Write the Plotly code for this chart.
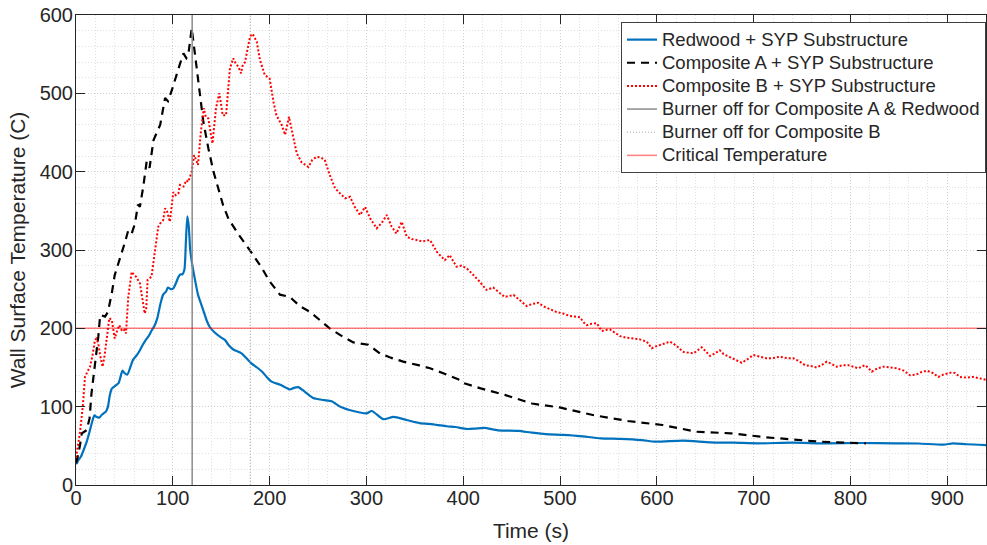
import plotly.graph_objects as go

# ---------------- data ----------------
redwood_t = [0, 1, 2, 5, 8, 11, 14, 17, 19, 21, 24, 27, 31, 33, 35, 37, 41, 44, 46, 48, 50, 53,
             56, 59, 63, 66, 69, 72, 75, 78, 81, 84, 87, 90, 93, 95, 98, 100.5, 103, 106, 108, 110,
             112, 113.5, 115, 116.5, 118, 120, 122, 124, 126, 129, 131.5, 135, 138, 143, 149, 154,
             158, 162.5, 171, 176, 181.5, 187, 192, 197, 202, 211, 221, 225, 229.5, 236.5, 245,
             255.5, 264, 273, 286.5, 300, 305.5, 317.5, 328, 341.5, 355, 369, 383, 392, 404, 412,
             421.7, 436, 457, 470, 485, 503, 520.6, 542, 562, 584.5, 598.6, 627, 655, 680, 705,
             740, 775, 811, 846, 870, 896, 906, 920, 940]
redwood_T = [27, 28, 31, 36, 45, 55, 68, 82, 89, 87, 86, 90, 94, 100, 115, 123, 127, 130, 138, 146,
             143, 141, 150, 160, 166, 172, 179, 185, 190, 197, 203, 213, 230, 243, 247, 252, 250,
             251, 257, 266, 269, 269, 275, 310, 343, 330, 300, 282, 268, 255, 243, 232, 223, 210,
             202, 195, 189, 185, 178, 173, 168, 162, 155, 150, 145, 138, 132, 128, 122, 124, 125,
             119, 111, 108.5, 107, 100, 94.5, 91.5, 94.5, 84, 87, 83, 79, 77.5, 75, 74, 71.5, 72,
             73, 69.8, 69, 67, 65, 64, 62.5, 59.6, 59, 57.4, 55.3, 56.6, 54.5, 54, 53.2, 54, 53.2,
             53.6, 53.2, 53, 51.5, 53.2, 52, 51]

compA_t = [0, 1.4, 4, 6, 11, 14, 16, 19.6, 23, 25, 30, 33, 37, 40, 45.5, 50.6, 54, 57.5, 61, 64,
           66, 69.5, 73, 76, 80, 87, 92, 95, 99, 104, 107, 111, 114, 116, 119.5, 123, 128, 131.5,
           136.7, 142, 149, 152, 157.4, 167.7, 180, 192, 200, 210.7, 221, 231, 241.7, 252, 262,
           276, 286.5, 302, 314, 324, 338, 353.6, 365.7, 379.4, 386, 396.7, 400.5, 418, 443, 471,
           499.6, 535, 570, 605.7, 641, 676.5, 711.8, 740, 768.5, 786, 816]
compA_T = [28, 34, 50, 66, 70, 85, 117, 151, 189, 217, 215, 221, 245, 268, 289, 310, 325, 321, 334,
           358, 355, 381, 413, 405, 440, 460, 494, 490, 504, 526, 536, 551, 545, 549, 583, 549, 498,
           464, 430, 400, 370, 357, 340, 320, 299, 277, 260, 243, 240, 228.5, 221, 210.6, 200, 189,
           182, 179, 168, 163, 157.5, 153, 149, 142.6, 139, 134, 130, 123.4, 115, 104, 99, 89, 81.7,
           76.6, 68, 66, 61, 58, 55.3, 54.5, 53.2]

compB_t = [0, 0.7, 4, 7, 9.3, 12, 14.5, 17, 19.6, 21, 23, 25, 27.5, 29.5, 31.6, 34.4, 37, 40, 42,
           44.7, 46, 48, 50, 51.6, 54, 57.5, 60, 62, 66, 68, 71, 72.5, 74, 78, 81.6, 83, 85, 87, 90,
           92, 93.7, 97, 100.5, 103, 105.7, 107.4, 111, 114, 116, 119.5, 122, 124, 126, 129, 132,
           134, 136.7, 139, 141, 144.6, 148, 150, 151.5, 155, 157, 159, 162.5, 165, 167.7, 170.5,
           172, 174.6, 177, 179.8, 181.5, 183, 186.7, 188, 190, 195, 200, 204, 207, 212.5, 216,
           220, 224.5, 228, 233, 240, 244, 248.6, 253, 257, 262, 267.6, 273, 278, 283, 288, 293.4,
           298.6, 304, 310.6, 316, 321, 326, 331, 336.5, 341.6, 347, 352, 358, 365.7, 372.6, 377,
           381, 386, 393, 398, 403.6, 409, 414, 417, 424, 431, 438, 443, 452, 458, 465.6, 471,
           477.6, 483, 489.7, 496, 503, 510, 515, 520.7, 524, 527.6, 533, 538, 543, 547, 551.6, 557,
           562, 569, 575.7, 582, 589.6, 594.7, 599, 603, 608, 613.6, 620, 627, 632, 637.7, 641,
           646.4, 651, 655, 660, 665, 669, 674, 681, 687.7, 693, 699.7, 706, 713.5, 720, 727, 734,
           741, 747, 753, 759, 765, 770, 775.5, 780, 785.8, 792, 797.8, 803, 808, 815, 818, 822,
           828, 834, 840, 847.8, 855, 861.6, 868, 873, 878.8, 885, 890.8, 896, 903, 908, 913, 920,
           927, 934, 940.8]
compB_T = [35, 40, 66, 100, 138, 145, 151, 165, 185, 187, 181, 165, 151, 165, 189, 213, 210.6, 187,
           195, 204, 200, 196, 198, 193.6, 240, 272, 268, 266, 257.5, 240, 219, 225, 262, 266, 298,
           310.6, 330, 334, 338, 353, 351, 336, 374, 370, 372, 383, 381, 389, 387, 400, 421, 415,
           408.5, 451, 481, 470, 468, 450, 436, 481, 500, 485, 472, 472, 500, 532, 544.7, 538, 534,
           525.6, 535, 540, 555, 572, 576, 574.5, 566, 555, 542.6, 523.4, 519, 489, 472, 459.6,
           447, 470, 442.6, 423.5, 412, 406, 415, 419, 418, 415, 396, 378.8, 372, 366, 368, 355,
           344.7, 355, 340, 327.7, 335, 344.7, 330, 321, 336, 317, 314, 312.8, 311, 312.8, 297.9,
           292, 287, 293.6, 278.7, 280, 276.6, 270, 264, 259.6, 249, 252, 244.7, 240, 242.6, 236,
           228.5, 231, 232.7, 228, 224, 221, 219, 215.7, 215, 214, 208, 204, 206, 206.4, 196.6,
           198, 198.6, 194, 190, 188, 187, 186, 183, 174.5, 177, 178.7, 180, 183, 178, 170, 169,
           168, 171, 175.8, 170, 164.7, 168, 172, 167, 163.8, 160, 156, 160, 166, 164, 161.7, 162,
           163.8, 162, 161.7, 158, 153, 152, 150, 153, 157.4, 155, 151, 153, 153, 151, 149, 153,
           150, 144.7, 149, 151, 150, 149, 146, 140, 141, 144, 146, 143, 138, 141, 143.4, 143, 138,
           137, 138, 136, 134]

burner_off_A = 120      # s
burner_off_B = 180      # s
critical_T = 200        # C
x_range = [0, 940]
y_range = [0, 600]

names = ["Redwood + SYP Substructure", "Composite A + SYP Substructure",
         "Composite B + SYP Substructure", "Burner off for Composite A & Redwood",
         "Burner off for Composite B", "Critical Temperature"]

# ---------------- figure ----------------
FONT = "Liberation Sans, Arial, sans-serif"
LEG_TEXT = '<span style="font-size:18.5px">{}</span>'
fig = go.Figure()

fig.add_trace(go.Scatter(x=redwood_t, y=redwood_T, mode="lines", name=LEG_TEXT.format(names[0]),
                         line=dict(color="#0072BD", width=2.2, shape="spline", smoothing=0.6)))
fig.add_trace(go.Scatter(x=compA_t, y=compA_T, mode="lines", name=LEG_TEXT.format(names[1]),
                         line=dict(color="#000000", width=2.2, dash="8px,6px")))
fig.add_trace(go.Scatter(x=compB_t, y=compB_T, mode="lines", name=LEG_TEXT.format(names[2]),
                         line=dict(color="#FF0000", width=2, dash="2px,2px")))
fig.add_trace(go.Scatter(x=[burner_off_A, burner_off_A], y=y_range, mode="lines",
                         name=LEG_TEXT.format(names[3]),
                         line=dict(color="rgb(140,140,140)", width=1.5)))
fig.add_trace(go.Scatter(x=[burner_off_B, burner_off_B], y=y_range, mode="lines",
                         name=LEG_TEXT.format(names[4]),
                         line=dict(color="rgb(170,170,170)", width=1, dash="1px,2px")))
fig.add_trace(go.Scatter(x=x_range, y=[critical_T, critical_T], mode="lines",
                         name=LEG_TEXT.format(names[5]),
                         line=dict(color="rgba(255,0,0,0.5)", width=1.5)))

axis_common = dict(
    automargin=False,
    showline=True, linecolor="#262626", linewidth=1, mirror="ticks",
    ticks="inside", ticklen=9, tickwidth=1, tickcolor="#262626",
    showgrid=True, gridcolor="#cfcfcf", gridwidth=1, griddash="1px,2px",
    zeroline=False,
    tickfont=dict(family=FONT, size=20, color="#262626"),
    minor=dict(showgrid=True, gridcolor="#e0e0e0", gridwidth=1, griddash="1px,2px", ticks=""),
)

fig.update_xaxes(range=x_range, tick0=0, dtick=100, minor_dtick=20,
                 ticklabelstandoff=-5,
                 title=dict(text="Time (s)", font=dict(family=FONT, size=21, color="#262626"),
                            standoff=15),
                 **axis_common)
fig.update_yaxes(range=y_range, tick0=0, dtick=100, minor_dtick=20,
                 ticklabelstandoff=-2,
                 title=dict(text="Wall Surface Temperature (C)",
                            font=dict(family=FONT, size=21, color="#262626"), standoff=8),
                 **axis_common)

fig.update_layout(
    width=987, height=545, autosize=False,
    margin=dict(l=76, r=1, t=15, b=60, autoexpand=False),
    paper_bgcolor="white", plot_bgcolor="white",
    font=dict(family=FONT, color="#262626"),
    showlegend=True,
    hovermode=False,
    legend=dict(x=1, xanchor="right", y=0.985, yanchor="top",
                bgcolor="white", bordercolor="#404040", borderwidth=1,
                font=dict(family=FONT, size=15.5, color="#262626"),
                itemwidth=30, tracegroupgap=0),
)

fig.write_html("out.html",
               config={"displayModeBar": False},
               post_script="document.body.style.margin='0px';document.body.style.padding='0px';")
